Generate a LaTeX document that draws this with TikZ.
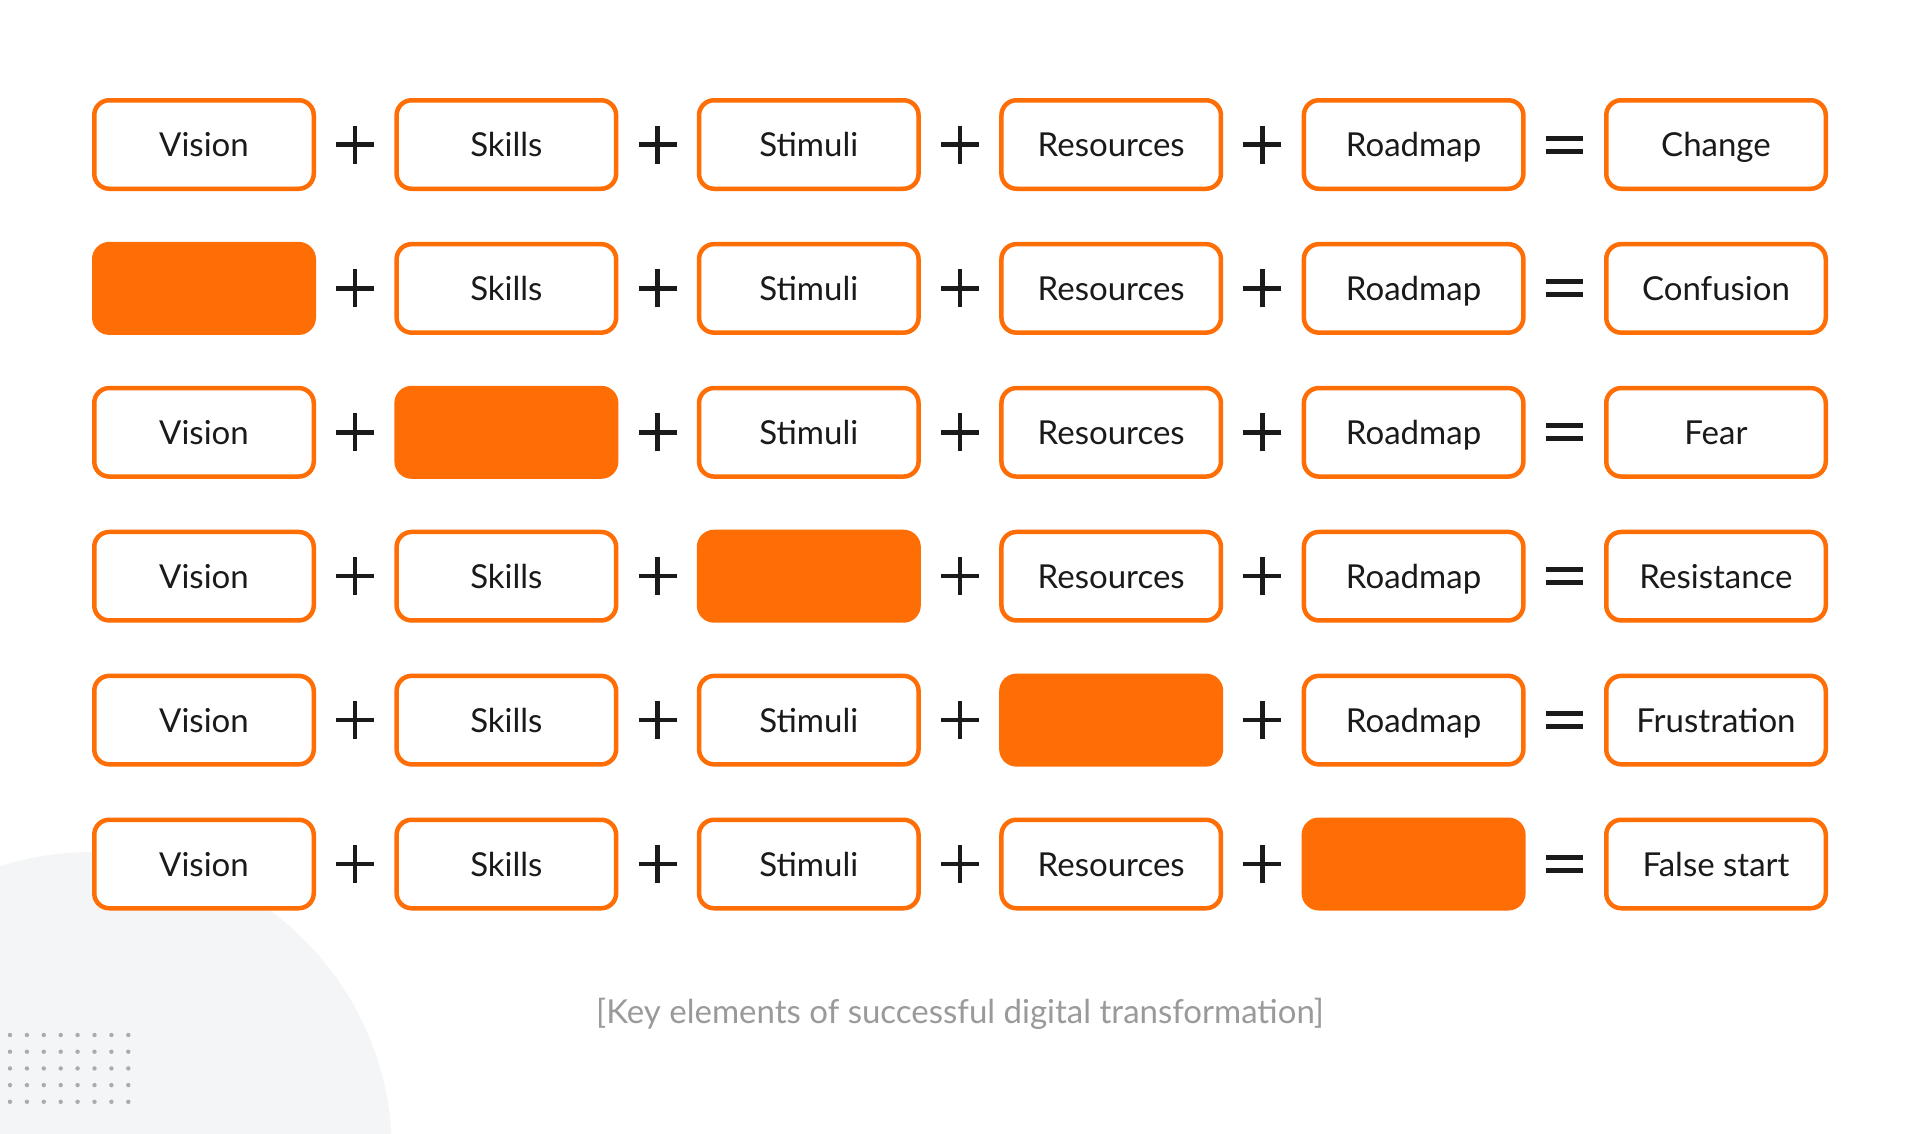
\documentclass[tikz,border=0pt]{standalone}
\usepackage{fontspec}
\setmainfont{Lato}
\usepackage{tikz}
\usetikzlibrary{calc}

\definecolor{brand}{HTML}{FF6D05}
\definecolor{ink}{HTML}{1A1A1A}
\definecolor{haze}{HTML}{F4F5F6}
\definecolor{speck}{HTML}{ABABAB}
\definecolor{note}{HTML}{9A9A9A}

\begin{document}
\begin{tikzpicture}[x=1pt,y=-1pt,
  box/.style={draw=brand,line width=4.5pt,rounded corners=15pt,fill=white,
    minimum width=219.5pt,minimum height=88.5pt,inner sep=0pt,text=ink,
    text height=24pt,text depth=0pt,
    font=\fontsize{33}{40}\selectfont},
  gapbox/.style={box,fill=brand},
  sign/.style={line width=4.5pt,ink}]
  \useasboundingbox[fill=white] (0,0) rectangle (1920,1133);

  % background disc and dots
  \fill[haze] (92,1152) circle [radius=300];
  \foreach \i in {0,...,7}
    \foreach \j in {0,...,4}
      \fill[speck] ({10+16.9*\i},{1035+16.7*\j}) circle [radius=2.2];

  % rows
  \foreach \res [count=\r] in {Change,Confusion,Fear,Resistance,Frustration,False start} {
    \pgfmathtruncatemacro{\miss}{\r-1}
    \foreach \lbl [count=\c] in {Vision,Skills,Stimuli,Resources,Roadmap} {
      \ifnum\c=\miss
        \node[gapbox] (b\r-\c) at ({204+302.4*(\c-1)},{144.5+143.9*(\r-1)}) {};
      \else
        \node[box] (b\r-\c) at ({204+302.4*(\c-1)},{144.5+143.9*(\r-1)}) {\lbl};
      \fi
    }
    \node[box] (b\r-6) at ({204+302.4*5},{144.5+143.9*(\r-1)}) {\res};

    % plus signs
    \foreach \c in {1,...,4} {
      \pgfmathtruncatemacro{\n}{\c+1}
      \coordinate (pl\r-\c) at ($(b\r-\c.east)!0.5!(b\r-\n.west)$);
      \draw[sign] ([xshift=-19pt]pl\r-\c) -- ([xshift=19pt]pl\r-\c);
      \draw[sign] ([yshift=-19pt]pl\r-\c) -- ([yshift=19pt]pl\r-\c);
    }
    % equal sign
    \coordinate (eq\r) at ($(b\r-5.east)!0.5!(b\r-6.west)$);
    \draw[sign,line width=5pt] ([xshift=-18.5pt,yshift=6.5pt]eq\r) -- ([xshift=18.5pt,yshift=6.5pt]eq\r);
    \draw[sign,line width=5pt] ([xshift=-18.5pt,yshift=-6.5pt]eq\r) -- ([xshift=18.5pt,yshift=-6.5pt]eq\r);
  }

  \node[text=note,font=\fontsize{33}{40}\selectfont] (cap) at (960,1014)
    {[Key elements of successful digital transformation]};
\end{tikzpicture}
\end{document}
